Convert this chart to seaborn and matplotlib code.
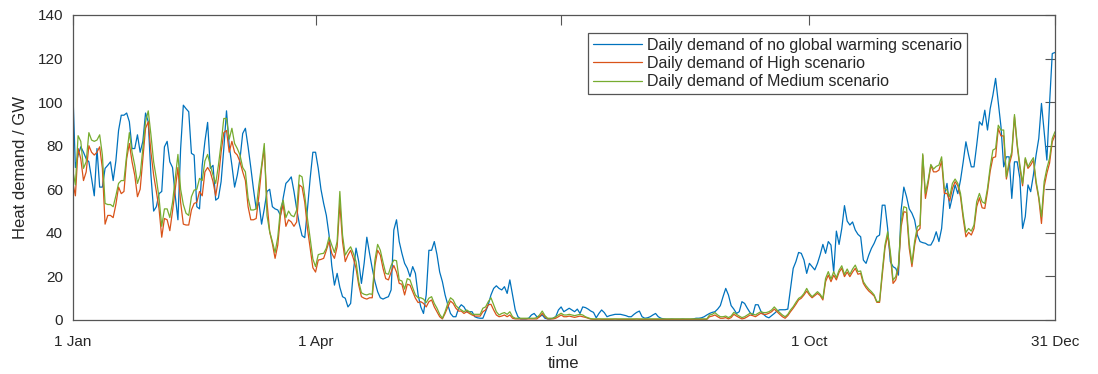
import matplotlib
matplotlib.use("Agg")
import matplotlib.pyplot as plt
import seaborn as sns
import pandas as pd
import numpy as np

# ---------------- data (GW, one value per day, 1 Jan .. 31 Dec) ----------------
no_warming = (
    [107.5, 70, 75.7, 79.5, 77, 74, 72.6, 65, 57, 78.7, 61, 61, 69.6, 71, 72.6, 64, 73, 87, 94, 94,
     95, 91, 78.7, 78.7, 85, 77, 82, 95, 91, 66.5, 50, 52, 58, 59, 79.5, 82, 72.6, 70, 57, 46, 78.7, 98.6]
    + [97, 95.6, 76.5, 75.7, 52, 51, 71, 82, 90.7, 69.6, 71, 55, 56, 63.5, 78.7, 96, 80, 71, 61, 66.5,
       74, 85.6, 88, 79.5, 70, 60, 51, 54, 44, 51, 59, 60, 52, 51, 50.5, 48, 56, 62.7, 64, 65.7,
       59, 51, 44, 38.7, 37.8, 51, 65, 77]
    + [77, 69.6, 60, 53.5, 48, 39, 25, 16, 21.4, 15, 10.7, 10, 6, 7.6, 22, 33, 26.8, 16.8, 26, 38,
       30.6, 23.7, 17.6, 13, 10.2, 9.6, 10.2, 10.7, 13.8, 41.3, 46, 36, 30.6, 26, 23.7, 19.9, 24.5, 21.4, 11.5, 6,
       3, 11.5, 32, 32, 36]
    + [30, 22, 17.6, 11.5, 7, 3, 1.5, 1.5, 5.4, 7, 6, 3.8, 3.8, 3.8, 1.5, 1, 0.8, 0.8, 3.8, 7,
       11.5, 14.5, 15.7, 14.5, 13.8, 15.3, 12.2, 18.4, 11.5, 4.6, 1.5, 0.5, 0.5, 0.5, 0.8, 2.3, 3, 1.5, 1.5, 2.3,
       0.8, 0.5, 0.5, 0.8, 1.5, 4.6, 6, 3.8]
    + [4.6, 5.4, 4.6, 3.8, 5, 3, 6, 5.7, 5, 4.1, 3.5, 1, 3, 4.6, 3.4, 1.5, 2, 2.3, 2.6, 2.6,
       2.6, 2.3, 2, 1.5, 1.5, 2.6, 3.5, 4.1, 1.5, 0.8, 1, 1.5, 2.3, 3, 1.5, 0.8, 0.5, 0.3, 0.3, 0.4,
       0.3, 0.3, 0.3, 0.4, 0.3, 0.3, 0.3, 0.5]
    + [0.8, 0.8, 1, 1.5, 2.3, 3, 3.5, 3.8, 5, 6.6, 10.7, 14.5, 11.5, 6.6, 5, 3, 3.8, 8.4, 7.6, 5.4,
       3.4, 2.3, 7, 7, 4.1, 2.6, 1.5, 1, 2, 3, 4.1, 4.7, 4.7, 4.7, 5, 14.5, 23.7, 26.8, 31, 30.6,
       27.5, 21.4, 26]
    + [24.5, 23, 26, 30, 34.7, 30.6, 36, 34.4, 22, 40.8, 34.7, 42, 52.5, 45.4, 43.6, 45, 41.3, 39.3, 38.2, 27.5,
       26, 29.8, 32.9, 35.2, 38.2, 39, 52.7, 52.7, 42, 26.8, 24.5, 23.7, 20.6, 50.5, 61, 56.6, 51, 49, 45.9, 39,
       36, 35.5, 35.2, 34.4, 34.4, 36.7]
    + [40.5, 36, 42, 57.3, 62.7, 51.2, 56.6, 62, 58, 64.2, 72.6, 81.8, 75.7, 70.3, 70.3, 80.3, 91, 89.4, 96.3, 87.2,
       97, 103.2, 110.9, 99.8, 88.7, 70.3, 74.9, 74.9, 55.8, 72.6, 72.6, 65, 42, 47.4, 62, 58.9, 66.5, 75.7, 83.3, 99.4,
       86.4, 73.4, 99.4, 122.3, 122.8]
)

high = (
    [63.5, 57, 78.7, 74, 64, 68, 80, 77, 75.7, 77, 79.5, 69.6, 44, 48, 48, 47, 53, 61, 58, 59,
     74, 81, 72.6, 66.5, 56.6, 60, 74, 88, 91, 77, 66.5, 59, 51, 38, 46.6, 46, 41, 50, 60, 70, 54, 44]
    + [43.6, 43.6, 50.5, 53.5, 54, 59, 57, 68, 70, 68, 63.5, 57, 65, 77, 86, 87, 77, 82, 77, 75.7,
       72.6, 68, 64, 52, 46, 46, 46.6, 57, 69.6, 78.7, 54, 40.5, 35, 28.3, 34.4, 48, 53, 43, 46, 45,
       43, 45, 62, 61, 54, 42, 33, 24]
    + [22, 27.5, 27.8, 28.3, 32, 36, 30.6, 28.3, 33.6, 53.5, 36, 26.8, 29.8, 32, 28.3, 23.7, 16, 10.7, 10, 9.6,
       10.2, 10.2, 25, 32, 29.8, 23.7, 19, 18.4, 22, 25, 22, 16.8, 16.4, 11.5, 16.4, 16, 13, 10, 8, 8.4,
       7.6, 6, 8.4, 9.2, 6]
    + [3.8, 1.5, 0.5, 3, 6, 8.7, 7.6, 5.4, 4.1, 4.1, 3, 3.8, 3, 2.3, 1.8, 1.8, 1.8, 3.8, 4.6, 7,
       7.2, 4.6, 2.3, 1.5, 1.8, 2.3, 1.5, 2.3, 0.8, 0.5, 0.5, 0.5, 0.5, 0.5, 0.5, 0.5, 0.5, 0.5, 1.5, 3,
       1.5, 0.5, 0.5, 0.5, 0.8, 1.5, 2.3, 1.5]
    + [1.5, 1.8, 1.5, 1.2, 1.5, 1.8, 1.5, 1.2, 0.8, 0.4, 0.3, 0.3, 0.4, 0.3, 0.3, 0.3, 0.3, 0.3, 0.4, 0.3,
       0.3, 0.3, 0.3, 0.3, 0.3, 0.3, 0.4, 0.3, 0.3, 0.3, 0.3, 0.3, 0.3, 0.3, 0.3, 0.3, 0.3, 0.3, 0.3, 0.3,
       0.3, 0.3, 0.3, 0.3, 0.3, 0.3, 0.3, 0.3]
    + [0.3, 0.3, 0.3, 0.3, 0.3, 1.5, 1.8, 2.3, 1.5, 0.8, 0.8, 1.1, 0.5, 1.1, 2.6, 1.8, 1.1, 0.5, 0.8, 1.5,
       2.3, 2, 1.5, 2.3, 3.1, 2.6, 2.6, 3.1, 3.8, 5, 3.8, 2.6, 1.5, 0.8, 2, 3.8, 5.4, 7.2, 9.2, 10,
       11.5, 13.3, 11.5]
    + [10.2, 11.2, 12.2, 11.2, 9.2, 17.6, 20.6, 17.6, 20.6, 18.4, 21.9, 23.7, 19.9, 22, 19.9, 22, 23.7, 21, 21.4, 16.8,
       14.8, 13.3, 12.2, 11, 8.1, 8.1, 20.6, 32.9, 39, 29.8, 16.8, 18.4, 23.7, 42.8, 49.7, 49.4, 32.9, 24.5, 34.4, 40.8,
       42, 75.7, 55.8, 62.7, 71, 68]
    + [68, 68.8, 73, 58.1, 58.1, 54.6, 60.4, 63.5, 61.6, 56.6, 46.6, 38.2, 40.2, 39, 42, 52, 56.1, 51.5, 51.2, 58.9,
       68.3, 74.5, 74.9, 87.9, 84.5, 84.5, 64.7, 71.1, 75.7, 93.3, 80, 69.9, 61.6, 73.9, 69.6, 71.1, 73.4, 62.7, 55.8, 44.3,
       61.2, 67.3, 72, 81.8, 84.9]
)

medium = (
    [69, 62, 84.6, 82, 69.6, 72.6, 86, 82.6, 82, 82.6, 85, 75.7, 53.5, 53, 53, 52, 57, 62.7, 64, 64,
     75.7, 86, 77, 71, 62.7, 66.5, 78.7, 91, 96, 85, 72.6, 65, 56, 43, 51, 51, 47, 54, 65, 76, 60, 53]
    + [49, 48, 56.6, 59.6, 60, 65, 64, 73, 76, 71, 66.5, 62.7, 71, 81, 92.5, 92.5, 83, 88, 81, 78.7,
       75.7, 70, 68, 56, 50.5, 50.5, 51, 62, 71, 81, 48, 40.5, 36, 31, 38, 51, 55, 47, 50, 48,
       47.4, 50.5, 66.5, 65.7, 57, 46.6, 37.5, 28]
    + [24.5, 30, 30.4, 30.6, 33, 38, 34.4, 31, 36, 59, 39, 29.8, 32, 33.6, 30.6, 26.8, 17.6, 12.5, 11.8, 11.5,
       12, 11.8, 27.5, 34.7, 32, 26.5, 21.4, 21, 25, 27.5, 27.2, 18.4, 17.9, 14.2, 19, 18.4, 14.8, 11.5, 10.2, 10.2,
       9.6, 8, 10, 10.7, 7.6]
    + [5.4, 2.6, 0.8, 3.8, 7.6, 10.2, 9.2, 6.6, 5.4, 4.6, 3.8, 4.6, 3.8, 2.6, 2.6, 2.6, 2.6, 5.4, 6, 8.4,
       10.2, 7, 3.8, 2.3, 3, 3.4, 2.6, 3.8, 1.5, 0.8, 0.8, 0.8, 0.8, 0.8, 0.8, 0.8, 0.8, 1.1, 2.3, 4.1,
       2, 0.8, 0.8, 0.8, 1.5, 2.3, 3.1, 2.3]
    + [2.3, 2.6, 2.3, 2, 2.3, 2.6, 2.3, 1.5, 1, 0.6, 0.5, 0.5, 0.5, 0.5, 0.5, 0.5, 0.5, 0.5, 0.5, 0.5,
       0.5, 0.5, 0.5, 0.5, 0.5, 0.5, 0.5, 0.5, 0.5, 0.5, 0.5, 0.5, 0.5, 0.5, 0.5, 0.5, 0.5, 0.5, 0.5, 0.5,
       0.5, 0.5, 0.5, 0.5, 0.5, 0.5, 0.5, 0.5]
    + [0.5, 0.5, 0.5, 0.5, 0.5, 2.3, 2.6, 3.4, 2.3, 1.5, 1.5, 1.8, 1.1, 1.8, 3.5, 2.6, 1.8, 1.1, 1.5, 2.3,
       3.1, 2.75, 2.3, 3.1, 3.8, 3.4, 3.4, 3.8, 4.6, 6, 4.6, 3.4, 2.3, 1.5, 2.6, 4.6, 6.1, 8.1, 9.9, 10.7,
       12.2, 14.5, 12.2]
    + [10.7, 11.8, 13, 11.8, 9.9, 19.1, 22.2, 18.8, 22.2, 19.4, 22.9, 24.9, 20.9, 23.4, 20.9, 23.4, 25.2, 22.2, 22.5, 17.6,
       15.7, 14.2, 13, 11.5, 8.4, 8.7, 22.2, 34.4, 40.5, 31.3, 18.3, 19.9, 25.2, 45.1, 52, 51.5, 35.2, 26, 36.2, 42.8,
       43.6, 76.3, 58.1, 64.2, 71.4, 69.3]
    + [70.5, 71.1, 74.9, 60.4, 59.6, 56.6, 62.7, 64.7, 62.7, 58.1, 48.2, 40.2, 42, 40.8, 43.6, 54.3, 58.1, 54.3, 53.5, 60.4,
       70.3, 78, 78.7, 89.4, 87.2, 87.2, 65.7, 72.6, 77.2, 94.3, 81, 71.1, 62.7, 74.5, 70.3, 72.6, 74.5, 63.8, 56.6, 47.4,
       63.5, 69.6, 74.2, 83.3, 86.4]
)

series_names = ["Daily demand of no global warming scenario",
                "Daily demand of High scenario",
                "Daily demand of Medium scenario"]
series_values = [no_warming, high, medium]
series_colors = ["#0072BD", "#D95319", "#77AC30"]

tick_days = [0, 90, 181, 273, 364]
tick_labels = ["1 Jan", "1 Apr", "1 Jul", "1 Oct", "31 Dec"]
y_ticks = [0, 20, 40, 60, 80, 100, 120, 140]

# ---------------- build long table ----------------
frames = []
for name, vals in zip(series_names, series_values):
    frames.append(pd.DataFrame({"day": np.arange(len(vals)), "demand": vals, "scenario": name}))
df = pd.concat(frames, ignore_index=True)

# ---------------- style ----------------
sns.set_style("white")
plt.rcParams["font.family"] = ["Liberation Sans", "DejaVu Sans"]
axis_col = "#555555"
text_col = "#262626"

fig = plt.figure(figsize=(10.98, 3.74), dpi=100)
ax = fig.add_axes([0.0662, 0.1444, 0.8946, 0.8155])

sns.lineplot(data=df, x="day", y="demand", hue="scenario",
             hue_order=series_names, palette=dict(zip(series_names, series_colors)),
             linewidth=0.9, ax=ax, legend=True)

ax.set_xlim(0, 364)
ax.set_ylim(0, 140)
ax.set_xticks(tick_days)
ax.set_xticklabels(tick_labels)
ax.set_yticks(y_ticks)
ax.set_xlabel("time", fontsize=12, color=text_col, labelpad=5)
ax.set_ylabel("Heat demand / GW", fontsize=12, color=text_col, labelpad=7)

for sp in ax.spines.values():
    sp.set_visible(True)
    sp.set_color(axis_col)
    sp.set_linewidth(0.9)

ax.tick_params(axis="both", direction="in", length=7, width=0.8, color=axis_col,
               labelsize=11, labelcolor=text_col, top=True, right=True)
ax.tick_params(axis="x", pad=10.5)
ax.tick_params(axis="y", pad=7)

leg = ax.legend(loc="upper left", bbox_to_anchor=(0.5246, 0.941), fontsize=11.5,
                frameon=True, fancybox=False, edgecolor=axis_col, framealpha=1,
                handlelength=3.1, handletextpad=0.3, labelspacing=0.2,
                borderpad=0.3, borderaxespad=0)
leg.get_frame().set_linewidth(0.9)
for t in leg.get_texts():
    t.set_color(text_col)

fig.savefig("out.png", dpi=100)
